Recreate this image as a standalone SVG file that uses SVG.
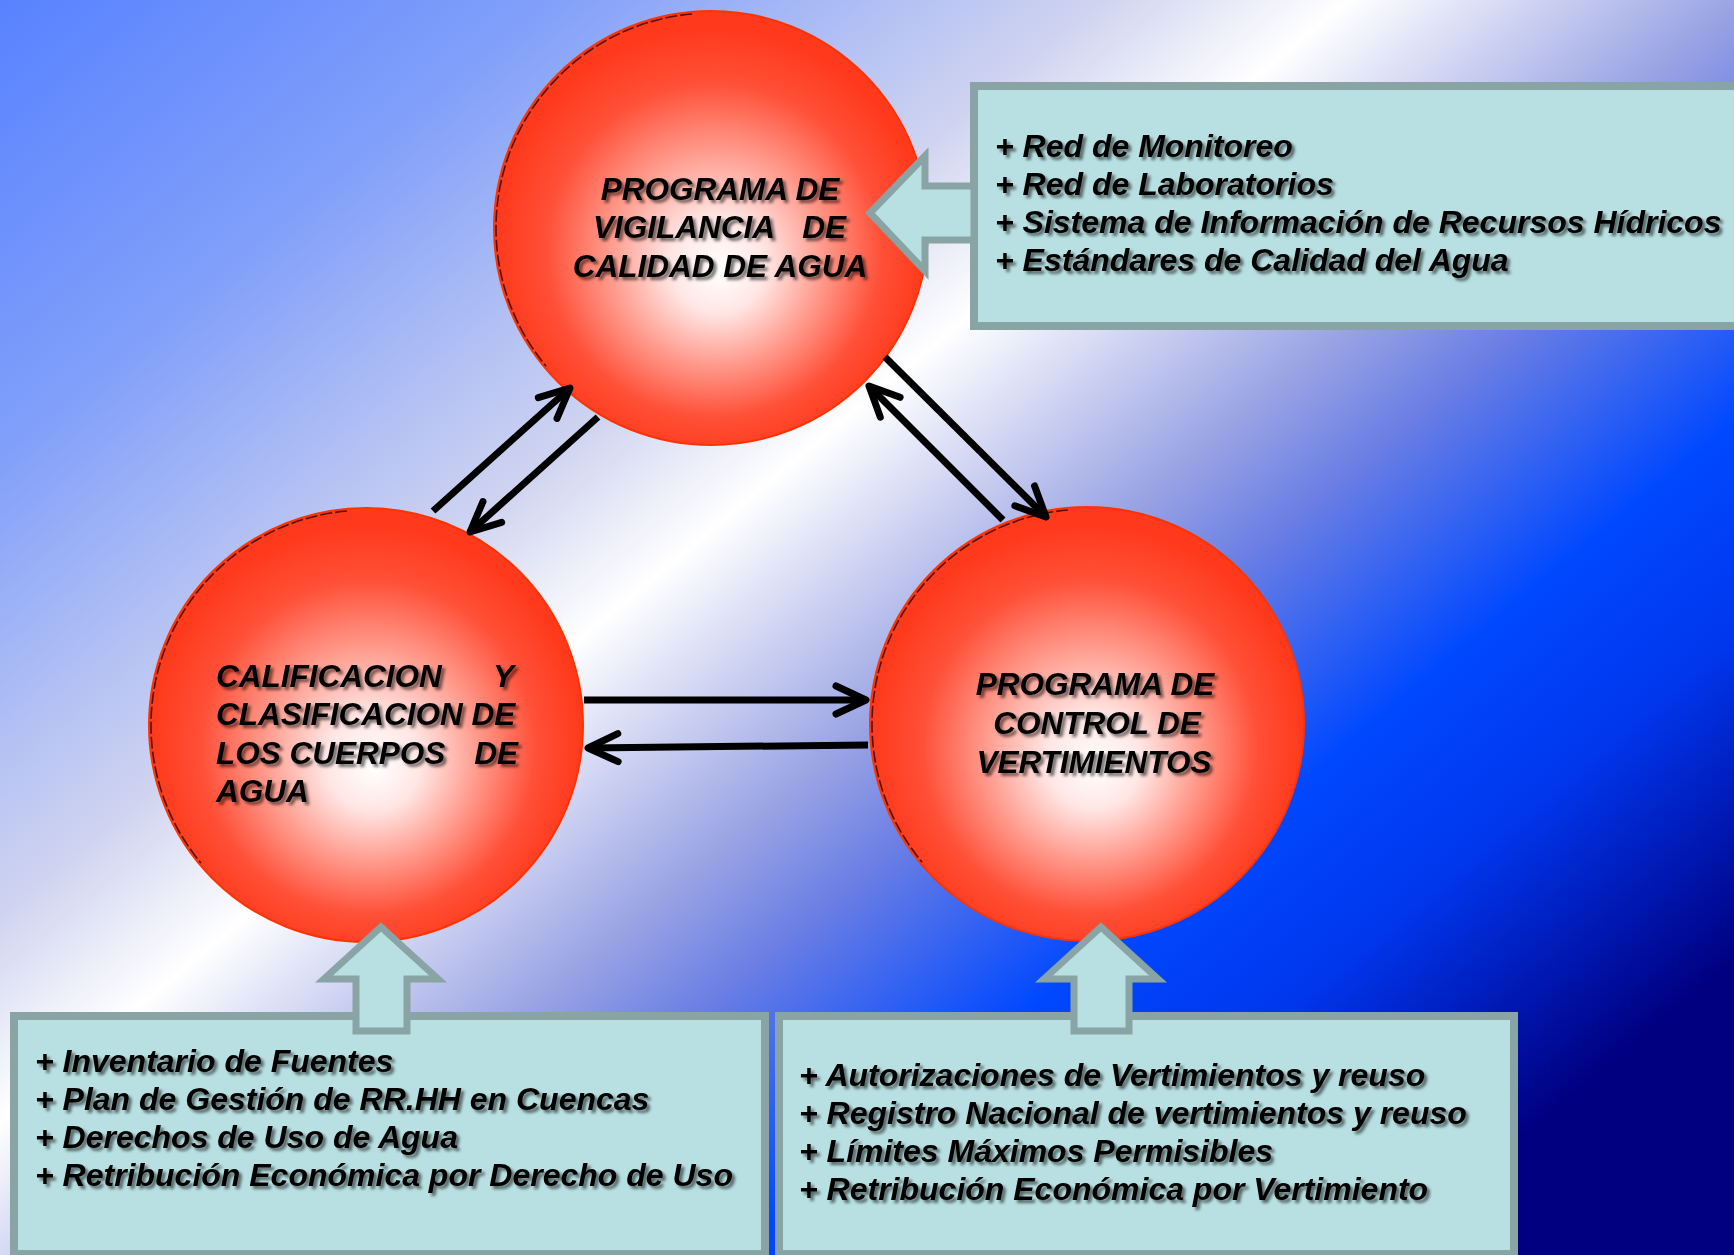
<svg xmlns="http://www.w3.org/2000/svg" width="1734" height="1255" viewBox="0 0 1734 1255">
  <defs>
    <linearGradient id="bg" gradientUnits="userSpaceOnUse" x1="0" y1="0" x2="1329" y2="1598">
      <stop offset="0" stop-color="#5882FF"/>
      <stop offset="0.17" stop-color="#82A0FA"/>
      <stop offset="0.34" stop-color="#D0D4F0"/>
      <stop offset="0.415" stop-color="#FFFFFF"/>
      <stop offset="0.535" stop-color="#9AA4E4"/>
      <stop offset="0.59" stop-color="#6A7EE4"/>
      <stop offset="0.69" stop-color="#0048FF"/>
      <stop offset="0.77" stop-color="#0036EC"/>
      <stop offset="0.84" stop-color="#0016AE"/>
      <stop offset="0.89" stop-color="#000080"/>
      <stop offset="1" stop-color="#000080"/>
    </linearGradient>
    <radialGradient id="ball" cx="0.5" cy="0.53" r="0.55" fx="0.52" fy="0.6">
      <stop offset="0" stop-color="#FFFFFF"/>
      <stop offset="0.2" stop-color="#FFE6E4"/>
      <stop offset="0.45" stop-color="#FF9A8C"/>
      <stop offset="0.7" stop-color="#FF5038"/>
      <stop offset="0.9" stop-color="#FF3A1C"/>
      <stop offset="1" stop-color="#FF3A1C"/>
    </radialGradient>
    <filter id="sh" x="-5%" y="-30%" width="115%" height="170%">
      <feDropShadow dx="3" dy="3" stdDeviation="1.6" flood-color="#000" flood-opacity="0.55"/>
    </filter>
    <marker id="ah" markerUnits="userSpaceOnUse" viewBox="-40 -20 44 40" markerWidth="44" markerHeight="40" refX="0" refY="0" orient="auto" overflow="visible">
      <path d="M-30,-14 L0,0 L-30,14" fill="none" stroke="#000" stroke-width="7" stroke-linecap="round" stroke-linejoin="round"/>
    </marker>
    <style>
      .ball { fill: url(#ball); stroke: #FF3300; stroke-width: 2; }
      .edge { fill: none; stroke: #1A0000; stroke-width: 1.6; stroke-dasharray: 12 3; opacity: 0.75; }
      .box { fill: #B8E0E2; stroke: #88A4A4; stroke-width: 8; }
      .barrow { fill: #B8E0E2; stroke: #88A4A4; stroke-width: 7; stroke-linejoin: miter; }
      .t { font-family: "Liberation Sans", Arial, sans-serif; font-weight: bold; font-style: italic; fill: #000; }
      .ct { font-size: 31.5px; }
      .bt { font-size: 32px; }
      .conn { fill: none; stroke: #000; stroke-width: 7; marker-end: url(#ah); }
    </style>
  </defs>

  <rect x="0" y="0" width="1734" height="1255" fill="url(#bg)"/>

  <g id="node-vigilancia">
    <circle class="ball" cx="711" cy="228" r="217"/>
    <path class="edge" d="M692,14 A215,215 0 0 0 546,366"/>
    <g class="t ct" filter="url(#sh)">
      <text x="720" y="200" text-anchor="middle">PROGRAMA DE</text>
      <text x="593" y="238">VIGILANCIA</text>
      <text x="846" y="238" text-anchor="end">DE</text>
      <text x="720" y="277" text-anchor="middle">CALIDAD DE AGUA</text>
    </g>
  </g>

  <g id="node-calificacion">
    <circle class="ball" cx="366" cy="725" r="217"/>
    <path class="edge" d="M347,511 A215,215 0 0 0 201,863"/>
    <g class="t ct" filter="url(#sh)">
      <text x="216" y="687">CALIFICACION</text>
      <text x="514" y="687" text-anchor="end">Y</text>
      <text x="216" y="725">CLASIFICACION DE</text>
      <text x="216" y="764">LOS CUERPOS</text>
      <text x="518" y="764" text-anchor="end">DE</text>
      <text x="216" y="802">AGUA</text>
    </g>
  </g>

  <g id="node-control">
    <circle class="ball" cx="1087" cy="724" r="217"/>
    <path class="edge" d="M1068,510 A215,215 0 0 0 922,862"/>
    <g class="t ct" filter="url(#sh)">
      <text x="1095" y="695" text-anchor="middle">PROGRAMA DE</text>
      <text x="1097" y="734" text-anchor="middle">CONTROL DE</text>
      <text x="1094" y="773" text-anchor="middle">VERTIMIENTOS</text>
    </g>
  </g>

  <g id="connectors">
    <line class="conn" x1="433" y1="511" x2="570" y2="388"/>
    <line class="conn" x1="598" y1="417" x2="470" y2="532"/>
    <line class="conn" x1="885" y1="357" x2="1046" y2="517"/>
    <line class="conn" x1="1003" y1="520" x2="869" y2="386"/>
    <line class="conn" x1="584" y1="700" x2="866" y2="700"/>
    <line class="conn" x1="868" y1="745" x2="588" y2="748"/>
  </g>

  <g id="box-vigilancia">
    <rect class="box" x="974" y="86" width="780" height="240"/>
    <path class="barrow" d="M870,213 L925,156 L925,186 L974,186 L974,240 L925,240 L925,271 Z"/>
    <g class="t bt" filter="url(#sh)">
      <text x="995" y="157">+ Red de Monitoreo</text>
      <text x="995" y="195">+ Red de Laboratorios</text>
      <text x="995" y="233">+ Sistema de Información de Recursos Hídricos</text>
      <text x="995" y="271">+ Estándares de Calidad del Agua</text>
    </g>
  </g>

  <g id="box-calificacion">
    <rect class="box" x="14" y="1016" width="751" height="238"/>
    <path class="barrow" d="M381,927 L438,979 L407,979 L407,1031 L356,1031 L356,979 L324,979 Z"/>
    <g class="t bt" filter="url(#sh)">
      <text x="35" y="1072">+ Inventario de Fuentes</text>
      <text x="35" y="1110">+ Plan de Gestión de RR.HH en Cuencas</text>
      <text x="35" y="1148">+ Derechos de Uso de Agua</text>
      <text x="35" y="1186">+ Retribución Económica por Derecho de Uso</text>
    </g>
  </g>

  <g id="box-control">
    <rect class="box" x="779" y="1016" width="735" height="238"/>
    <path class="barrow" d="M1101,927 L1158,979 L1129,979 L1129,1031 L1074,1031 L1074,979 L1044,979 Z"/>
    <g class="t bt" filter="url(#sh)">
      <text x="799" y="1086">+ Autorizaciones de Vertimientos y reuso</text>
      <text x="799" y="1124">+ Registro Nacional de vertimientos y reuso</text>
      <text x="799" y="1162">+ Límites Máximos Permisibles</text>
      <text x="799" y="1200">+ Retribución Económica por Vertimiento</text>
    </g>
  </g>
</svg>
